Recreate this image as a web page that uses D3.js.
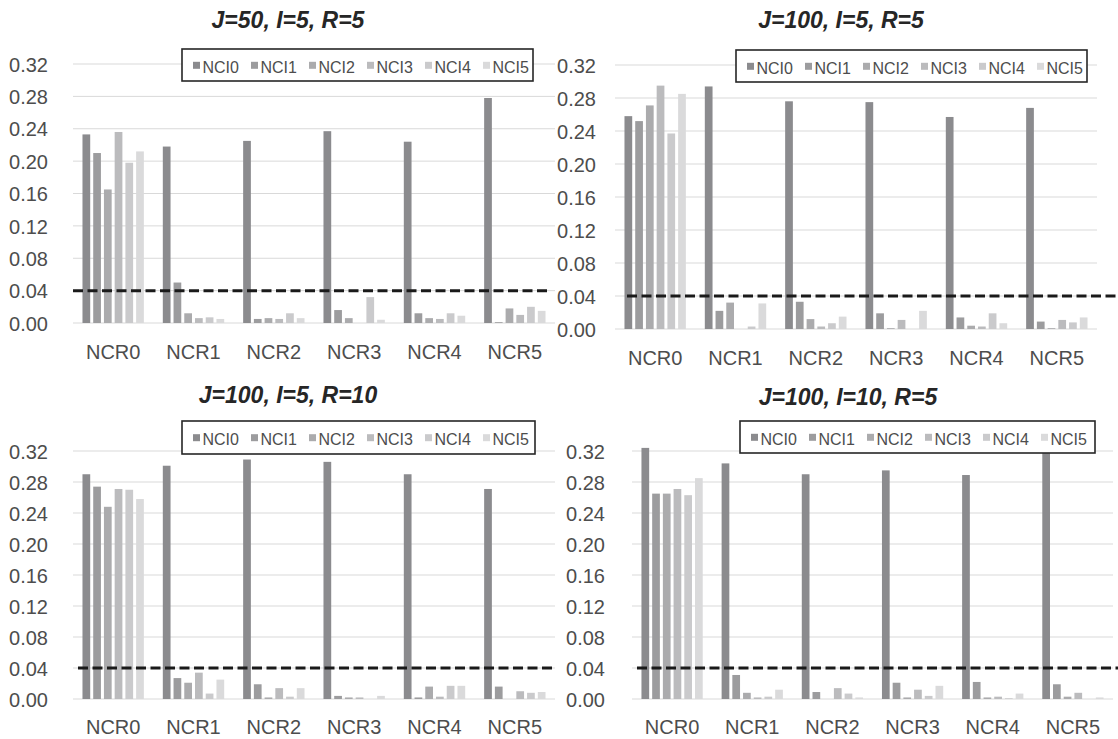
<!DOCTYPE html>
<html>
<head>
<meta charset="utf-8">
<script src="https://cdn.jsdelivr.net/npm/d3@7"></script>
<style>
  html, body { margin: 0; padding: 0; background: #ffffff; }
  svg { display: block; }
</style>
</head>
<body>
<svg id="chart" width="1118" height="739"></svg>
<script>
// Category, series and tick definitions shared by all four panels
const categories = ["NCR0", "NCR1", "NCR2", "NCR3", "NCR4", "NCR5"];
const seriesNames = ["NCI0", "NCI1", "NCI2", "NCI3", "NCI4", "NCI5"];
const yTicks = [0, 0.04, 0.08, 0.12, 0.16, 0.20, 0.24, 0.28, 0.32];
const threshold = 0.04;
const titles = ["J=50, I=5, R=5", "J=100, I=5, R=5", "J=100, I=5, R=10", "J=100, I=10, R=5"];
const seriesColors = ["#8b8b8e", "#9c9c9e", "#ababad", "#bbbbbd", "#cacacc", "#dadadb"];

// Rows: NCR0..NCR5, columns: NCI0..NCI5
const valuesJ50I5R5 = [
  [0.233, 0.210, 0.165, 0.236, 0.198, 0.212],
  [0.218, 0.050, 0.012, 0.006, 0.007, 0.005],
  [0.225, 0.005, 0.006, 0.005, 0.012, 0.006],
  [0.237, 0.016, 0.006, 0.000, 0.032, 0.004],
  [0.224, 0.012, 0.006, 0.005, 0.012, 0.009],
  [0.278, 0.001, 0.018, 0.010, 0.020, 0.015]
];
const valuesJ100I5R5 = [
  [0.258, 0.252, 0.271, 0.295, 0.237, 0.285],
  [0.294, 0.022, 0.032, 0.000, 0.003, 0.031],
  [0.276, 0.033, 0.012, 0.003, 0.007, 0.015],
  [0.275, 0.019, 0.001, 0.011, 0.000, 0.022],
  [0.257, 0.014, 0.004, 0.003, 0.019, 0.007],
  [0.268, 0.009, 0.001, 0.011, 0.008, 0.014]
];
const valuesJ100I5R10 = [
  [0.290, 0.274, 0.248, 0.271, 0.270, 0.258],
  [0.301, 0.027, 0.021, 0.034, 0.007, 0.025],
  [0.309, 0.019, 0.002, 0.014, 0.003, 0.014],
  [0.306, 0.004, 0.002, 0.002, 0.000, 0.004],
  [0.290, 0.002, 0.016, 0.003, 0.017, 0.017],
  [0.271, 0.016, 0.000, 0.010, 0.008, 0.009]
];
const valuesJ100I10R5 = [
  [0.324, 0.265, 0.265, 0.271, 0.263, 0.285],
  [0.304, 0.031, 0.008, 0.002, 0.003, 0.012],
  [0.290, 0.009, 0.000, 0.014, 0.007, 0.002],
  [0.295, 0.021, 0.002, 0.012, 0.004, 0.017],
  [0.289, 0.022, 0.002, 0.003, 0.001, 0.007],
  [0.330, 0.019, 0.003, 0.008, 0.000, 0.002]
];

// Panel placement on the page
const panels = [
  { title: titles[0], values: valuesJ50I5R5,  x0: 73,  x1: 555,  yBase: 323, yTop: 64,
    tickRight: 48,  labelY: 359, titleX: 288, titleY: 28,
    legend: { x: 182, y: 49, w: 351, h: 32 }, dash: [73, 551] },
  { title: titles[1], values: valuesJ100I5R5, x0: 615, x1: 1097, yBase: 329, yTop: 65,
    tickRight: 596, labelY: 365, titleX: 841, titleY: 28,
    legend: { x: 736, y: 50, w: 351, h: 32 }, dash: [627, 1118] },
  { title: titles[2], values: valuesJ100I5R10, x0: 73, x1: 555, yBase: 699, yTop: 451,
    tickRight: 48,  labelY: 734, titleX: 288, titleY: 403,
    legend: { x: 182, y: 421, w: 353, h: 33 }, dash: [78, 555] },
  { title: titles[3], values: valuesJ100I10R5, x0: 632, x1: 1113, yBase: 699, yTop: 451,
    tickRight: 605, labelY: 734, titleX: 848, titleY: 405,
    legend: { x: 740, y: 421, w: 355, h: 32 }, dash: [637, 1118] }
];

const svg = d3.select("#chart");
const tickFont = "'Liberation Sans', Arial, sans-serif";

panels.forEach(p => {
  const g = svg.append("g");

  const x = d3.scaleBand().domain(categories).range([p.x0, p.x1]).padding(0);
  const inner = d3.scaleBand().domain(seriesNames)
    .range([x.bandwidth() * 0.118, x.bandwidth() * 0.882])
    .paddingInner(0.28).paddingOuter(0);
  const y = d3.scaleLinear().domain([0, 0.32]).range([p.yBase, p.yTop]);

  // Horizontal gridlines
  g.append("g").selectAll("line").data(yTicks).join("line")
    .attr("x1", p.x0).attr("x2", p.x1)
    .attr("y1", d => y(d)).attr("y2", d => y(d))
    .attr("stroke", "#d9d9d9").attr("stroke-width", 1);

  // Value axis labels
  const yAxis = d3.axisLeft(y).tickValues(yTicks).tickFormat(d3.format(".2f")).tickSize(0).tickPadding(0);
  const ya = g.append("g").attr("transform", `translate(${p.tickRight},0)`).call(yAxis);
  ya.select(".domain").remove();
  ya.selectAll("text")
    .attr("font-family", tickFont).attr("font-size", 20)
    .attr("fill", "#4d4d4d").attr("dy", "0.36em");

  // Category axis labels
  const xAxis = d3.axisBottom(x).tickSize(0).tickPadding(0);
  const xa = g.append("g").attr("transform", `translate(0,${p.labelY})`).call(xAxis);
  xa.select(".domain").remove();
  xa.selectAll("text")
    .attr("font-family", tickFont).attr("font-size", 20)
    .attr("fill", "#4d4d4d").attr("dy", 0).attr("y", 0);

  // Clustered bars
  const groups = g.append("g").selectAll("g").data(categories).join("g")
    .attr("transform", d => `translate(${x(d)},0)`);
  groups.selectAll("rect")
    .data((c, ci) => seriesNames.map((s, si) => ({ s, si, v: p.values[ci][si] })))
    .join("rect")
    .attr("x", d => inner(d.s))
    .attr("width", inner.bandwidth())
    .attr("y", d => y(d.v))
    .attr("height", d => y(0) - y(d.v))
    .attr("fill", d => seriesColors[d.si]);

  // Significance level line
  g.append("line")
    .attr("x1", p.dash[0]).attr("x2", p.dash[1])
    .attr("y1", y(threshold)).attr("y2", y(threshold))
    .attr("stroke", "#1a1a1a").attr("stroke-width", 3)
    .attr("stroke-dasharray", "10,4.5");

  // Legend
  const L = p.legend;
  const lg = g.append("g").attr("transform", `translate(${L.x},${L.y})`);
  lg.append("rect").attr("width", L.w).attr("height", L.h)
    .attr("fill", "#ffffff").attr("stroke", "#262626").attr("stroke-width", 1.6);
  const items = lg.selectAll("g.item").data(seriesNames).join("g")
    .attr("class", "item")
    .attr("transform", (d, i) => `translate(${11 + i * 58},0)`);
  items.append("rect")
    .attr("x", 0).attr("y", L.h * 0.40).attr("width", 7).attr("height", 7)
    .attr("fill", (d, i) => seriesColors[i]);
  items.append("text")
    .attr("x", 9.5).attr("y", L.h * 0.74)
    .attr("font-family", tickFont).attr("font-size", 16)
    .attr("fill", "#4d4d4d")
    .text(d => d);

  // Panel title
  g.append("text")
    .attr("x", p.titleX).attr("y", p.titleY)
    .attr("text-anchor", "middle")
    .attr("font-family", tickFont).attr("font-size", 23)
    .attr("font-style", "italic").attr("font-weight", "bold")
    .attr("fill", "#262626")
    .text(p.title);
});
</script>
</body>
</html>
